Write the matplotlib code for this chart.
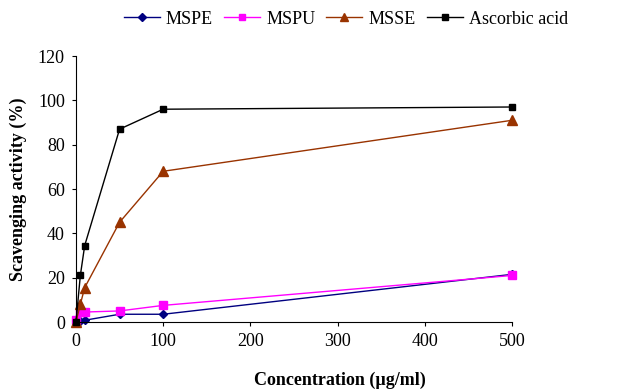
import matplotlib
matplotlib.use("Agg")
import matplotlib.pyplot as plt

# concentrations (ug/ml) and scavenging activity (%)
conc = [0, 5, 10, 50, 100, 500]
mspe = [0, 0.5, 0.8, 3.5, 3.5, 21.5]
mspu = [1, 4.5, 4.5, 5, 7.5, 21]
msse = [0, 8, 15.5, 45, 68, 91]
ascorbic = [0, 21, 34.5, 87, 96, 97]

plt.rcParams['font.family'] = ['Liberation Serif', 'DejaVu Serif']

fig = plt.figure(figsize=(6.39, 3.89), dpi=100)
ax = fig.add_axes([0.1189, 0.1722, 0.6823, 0.6838])

ax.plot(conc, mspe, color='#000080', marker='D', markersize=4.5, lw=1, label='MSPE', clip_on=False)
ax.plot(conc, mspu, color='#FF00FF', marker='s', markersize=5.5, lw=1, label='MSPU', clip_on=False)
ax.plot(conc, msse, color='#993300', marker='^', markersize=6.5, lw=1, label='MSSE', clip_on=False)
ax.plot(conc, ascorbic, color='black', marker='s', markersize=5, lw=1, label='Ascorbic acid', clip_on=False)

ax.set_xlim(0, 500)
ax.set_ylim(0, 120)
ax.set_xticks(range(0, 501, 100))
ax.set_yticks(range(0, 121, 20))
ax.spines['top'].set_visible(False)
ax.spines['right'].set_visible(False)
ax.tick_params(direction='out', length=3, labelsize=13, pad=5)

ax.set_ylabel('Scavenging activity (%)', fontsize=13, fontweight='bold', labelpad=8)
fig.text(340 / 639, 1 - 380 / 389, 'Concentration (\u00b5g/ml)', ha='center', va='center',
         fontsize=13, fontweight='bold')

fig.legend(loc='center', bbox_to_anchor=(346 / 639, 1 - 19 / 389), ncol=4, frameon=False,
           fontsize=13, handlelength=2.0, handletextpad=0.35, columnspacing=0.6, markerscale=0.8)

fig.savefig('out.png', dpi=100)
